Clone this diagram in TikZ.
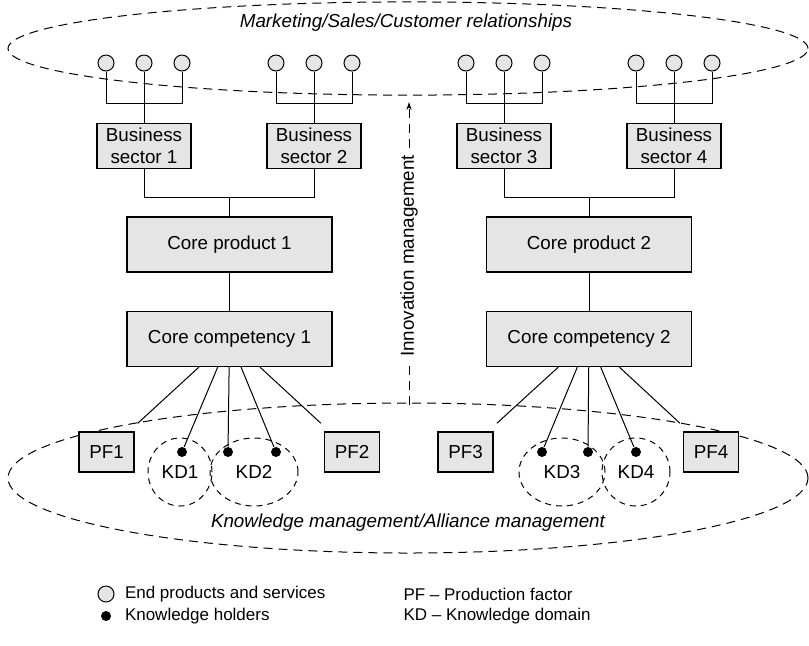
\documentclass[tikz,border=0pt]{standalone}
\usepackage{fontspec}
\setmainfont{Liberation Sans}
\usetikzlibrary{arrows.meta, positioning, shapes.geometric}

\definecolor{boxgray}{gray}{0.9}

\begin{document}
\begin{tikzpicture}[
            x = 0.5pt, y = -0.5pt, % one unit = one pixel of the layout
            > = {Stealth[length=4pt, width=2.6pt]}, % arrow head style
            font = \fontsize{9.4}{11}\selectfont,
            line width = 0.5pt
        ]

        \tikzset{
            box/.style = {
                draw, line width = 0.6pt,
                fill = boxgray,
                inner sep = 0pt,
                align = center
            },
            sector/.style = {box, minimum width = 47pt, minimum height = 22.5pt},
            core/.style = {box, minimum width = 102.5pt, minimum height = 27.5pt},
            factor/.style = {box, minimum width = 27.5pt, minimum height = 20pt},
            product/.style = {circle, draw, fill = boxgray, minimum size = 8pt, inner sep = 0pt},
            holder/.style = {circle, fill = black, minimum size = 5pt, inner sep = 0pt},
            kdomain/.style = {ellipse, draw, dash pattern = on 3pt off 2.5pt, inner sep = 0pt},
            zone/.style = {dash pattern = on 4.5pt off 3pt},
            legend/.style = {inner sep = 0pt, anchor = west, font = \fontsize{8.5}{10}\selectfont}
        }

        \useasboundingbox (0,0) rectangle (809,645);

        % the two management zones
        \draw[zone] (408,48.5) ellipse [x radius = 200pt, y radius = 23.3pt];
        \draw[zone] (408,478) ellipse [x radius = 200pt, y radius = 37.5pt];
        \node[font = \fontsize{9.4}{11}\selectfont\itshape] (market) at (406,23) {Marketing/Sales/Customer relationships};
        \node[font = \fontsize{9.4}{11}\selectfont\itshape] (knowledge) at (408,523) {Knowledge management/Alliance management};

        % business sectors with their end products
        \foreach \s/\cx in {1/144, 2/314, 3/504, 4/674} {
            \node[sector] (bs\s) at (\cx,146) {Business\\sector \s};
            \node[product] (p\s a) at (\cx-38,63) {};
            \node[product] (p\s b) at (\cx,63) {};
            \node[product] (p\s c) at (\cx+38,63) {};
            \coordinate (j\s) at (\cx,103);
            \draw (p\s a) |- (j\s) -| (p\s c);
            \draw (p\s b) -- (bs\s);
        }

        % core products and core competencies
        \node[core] (cp1) at (229.5,244.5) {Core product 1};
        \node[core] (cp2) at (589,244.5) {Core product 2};
        \node[core] (cc1) at (229.5,339) {Core competency 1};
        \node[core] (cc2) at (589,339) {Core competency 2};

        \coordinate (k1) at (229.5,197);
        \coordinate (k2) at (589,197);
        \draw (bs1) |- (k1) -| (bs2);
        \draw (bs3) |- (k2) -| (bs4);
        \draw (k1) -- (cp1);
        \draw (k2) -- (cp2);
        \draw (cp1) -- (cc1);
        \draw (cp2) -- (cc2);

        % production factors
        \node[factor] (pf1) at (106.5,452) {PF1};
        \node[factor] (pf2) at (352,452) {PF2};
        \node[factor] (pf3) at (465.5,452) {PF3};
        \node[factor] (pf4) at (711,452) {PF4};

        % knowledge domains
        \node[kdomain, minimum width = 32pt, minimum height = 34pt] (kd1) at (180,472) {KD1};
        \node[kdomain, minimum width = 44pt, minimum height = 34pt] (kd2) at (254,472) {KD2};
        \node[kdomain, minimum width = 43pt, minimum height = 34pt] (kd3) at (562,472) {KD3};
        \node[kdomain, minimum width = 34pt, minimum height = 34pt] (kd4) at (636,472) {KD4};

        % knowledge holders
        \node[holder] (h1) at (182,452) {};
        \node[holder] (h2a) at (228,452) {};
        \node[holder] (h2b) at (276,452) {};
        \node[holder] (h3a) at (542,452) {};
        \node[holder] (h3b) at (588,452) {};
        \node[holder] (h4) at (636,452) {};

        \draw[shorten > = 6pt] (cc1) -- (pf1);
        \draw[shorten > = 6pt] (cc1) -- (pf2);
        \draw[shorten > = 6pt] (cc2) -- (pf3);
        \draw[shorten > = 6pt] (cc2) -- (pf4);
        \foreach \h in {h1, h2a, h2b} \draw (cc1) -- (\h);
        \foreach \h in {h3a, h3b, h4} \draw (cc2) -- (\h);

        % innovation management
        \node[rotate = 90] (innov) at (409,256) {Innovation management};
        \coordinate (innovlow) at (409,405);
        \coordinate (innovtop) at (409,102);
        \draw[zone, ->] (innov.east) -- (innovtop);
        \draw[zone] (innovlow) -- (innov.west);

        % legend
        \node[product] (lp) at (106,594) {};
        \node[holder] (lh) at (106,616) {};
        \node[legend, right = 5pt of lp] (lptext) {End products and services};
        \node[legend, right = 6.5pt of lh] (lhtext) {Knowledge holders};
        \node[legend] (lpf) at (403,594) {PF -- Production factor};
        \node[legend] (lkd) at (403,616) {KD -- Knowledge domain};

  \end{tikzpicture}
\end{document}
